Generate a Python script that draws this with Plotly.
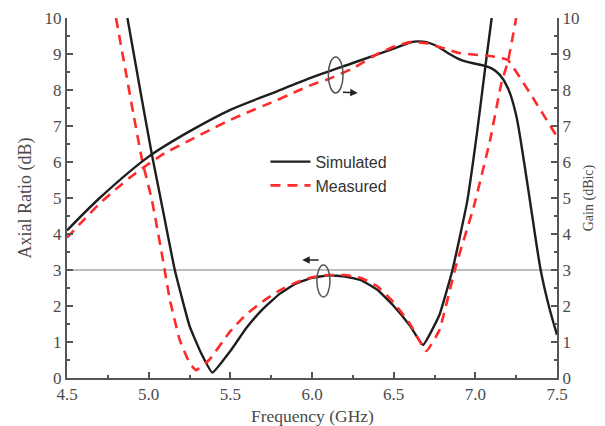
import plotly.graph_objects as go

# Axial ratio (dB) - simulated
ar_sim_f = [4.87, 4.95, 5.02, 5.09, 5.16, 5.25, 5.32, 5.39, 5.5, 5.6, 5.7, 5.8, 5.9, 6.0, 6.1, 6.2, 6.3, 6.4, 6.5, 6.6, 6.68, 6.78, 6.86, 6.95, 7.01, 7.06, 7.1]
ar_sim = [10.0, 7.95, 6.2, 4.6, 3.0, 1.45, 0.7, 0.15, 0.75, 1.4, 1.92, 2.33, 2.62, 2.78, 2.85, 2.82, 2.72, 2.45, 2.0, 1.45, 0.92, 1.75, 3.0, 4.9, 6.8, 8.6, 10.0]

# Axial ratio (dB) - measured
ar_meas_f = [4.80, 4.86, 4.91, 4.96, 5.02, 5.08, 5.13, 5.19, 5.25, 5.29, 5.37, 5.5, 5.6, 5.7, 5.8, 5.9, 6.0, 6.1, 6.2, 6.3, 6.4, 6.5, 6.6, 6.7, 6.78, 6.88, 6.99, 7.09, 7.16, 7.2, 7.25]
ar_meas = [10.0, 8.5, 7.25, 6.05, 4.94, 3.47, 2.17, 1.06, 0.42, 0.22, 0.5, 1.3, 1.78, 2.13, 2.43, 2.65, 2.8, 2.86, 2.86, 2.78, 2.55, 2.1, 1.5, 0.75, 1.33, 3.1, 4.75, 6.6, 8.2, 8.8, 10.0]

# Gain (dBic) - simulated
gain_sim_f = [4.5, 4.7, 5.0, 5.25, 5.5, 5.75, 6.0, 6.25, 6.5, 6.6, 6.65, 6.7, 6.75, 6.8, 6.85, 6.9, 6.95, 7.0, 7.05, 7.1, 7.15, 7.2, 7.25, 7.3, 7.35, 7.4, 7.45, 7.5]
gain_sim = [4.1, 5.0, 6.15, 6.85, 7.45, 7.9, 8.35, 8.75, 9.15, 9.32, 9.35, 9.33, 9.25, 9.12, 8.98, 8.86, 8.78, 8.73, 8.68, 8.6, 8.42, 8.05, 7.3, 5.95, 4.45, 3.0, 2.0, 1.2]

# Gain (dBic) - measured
gain_meas_f = [4.5, 4.6, 4.7, 4.8, 4.9, 5.0, 5.1, 5.25, 5.4, 5.5, 5.6, 5.75, 5.9, 6.0, 6.1, 6.25, 6.4, 6.5, 6.6, 6.7, 6.8, 6.9, 7.0, 7.1, 7.2, 7.35, 7.5]
gain_meas = [3.9, 4.38, 4.85, 5.25, 5.62, 5.95, 6.25, 6.6, 6.95, 7.17, 7.37, 7.65, 7.95, 8.15, 8.3, 8.6, 9.0, 9.2, 9.33, 9.3, 9.17, 9.03, 8.98, 8.94, 8.83, 7.8, 6.7]

x_ticks = [4.5, 5.0, 5.5, 6.0, 6.5, 7.0, 7.5]
y_ticks = list(range(0, 11))

BLACK = "#1e1e1e"
RED = "#ff2a2a"
AXIS = "#555555"
TXT = "#4a4a4a"
SERIF = "Liberation Serif, Times New Roman, serif"

fig = go.Figure()

# AR curves (left axis)
fig.add_trace(go.Scatter(x=ar_sim_f, y=ar_sim, mode="lines", name="Simulated",
                         line=dict(color=BLACK, width=2.4, shape="spline", smoothing=0.35), legendgroup="s"))
fig.add_trace(go.Scatter(x=ar_meas_f, y=ar_meas, mode="lines", name="Measured",
                         line=dict(color=RED, width=2.6, dash="10px,7px", shape="spline", smoothing=0.35),
                         legendgroup="m"))
# Gain curves (right axis)
fig.add_trace(go.Scatter(x=gain_sim_f, y=gain_sim, mode="lines", name="Simulated", yaxis="y2",
                         line=dict(color=BLACK, width=2.4, shape="spline", smoothing=0.8),
                         showlegend=False, legendgroup="s"))
fig.add_trace(go.Scatter(x=gain_meas_f, y=gain_meas, mode="lines", name="Measured", yaxis="y2",
                         line=dict(color=RED, width=2.6, dash="10px,7px", shape="spline", smoothing=0.25),
                         showlegend=False, legendgroup="m"))

# 3 dB reference line
fig.add_shape(type="line", xref="x", yref="y", x0=4.5, x1=7.5, y0=3, y1=3,
              line=dict(color="#bdbdbd", width=2), layer="below")

# ellipse markers + arrows
fig.add_shape(type="circle", xref="x", yref="y", x0=6.10, x1=6.19, y0=7.92, y1=8.92,
              line=dict(color="#555555", width=1.5))
fig.add_shape(type="circle", xref="x", yref="y", x0=6.03, x1=6.11, y0=2.25, y1=3.14,
              line=dict(color="#555555", width=1.5))
fig.add_annotation(x=6.28, y=7.92, ax=6.18, ay=7.94, xref="x", yref="y", axref="x", ayref="y",
                   text="", showarrow=True, arrowhead=2, arrowsize=1, arrowwidth=1.5, arrowcolor="#222")
fig.add_annotation(x=5.94, y=3.28, ax=6.05, ay=3.28, xref="x", yref="y", axref="x", ayref="y",
                   text="", showarrow=True, arrowhead=2, arrowsize=1, arrowwidth=1.5, arrowcolor="#222")

# x-axis title (placed below tick labels)
fig.add_annotation(x=0.5, y=-0.106, xref="paper", yref="paper", xanchor="center", yanchor="middle",
                   text="Frequency (GHz)", showarrow=False,
                   font=dict(family=SERIF, size=17.5, color=TXT))

fig.update_layout(
    width=589, height=418,
    margin=dict(l=59, r=40, t=10, b=48, autoexpand=False),
    paper_bgcolor="white", plot_bgcolor="white",
    showlegend=True,
    legend=dict(x=0.405, y=0.648, xanchor="left", yanchor="top", bgcolor="rgba(0,0,0,0)",
                font=dict(family="Liberation Sans, Arial, sans-serif", size=16, color="#333"),
                tracegroupgap=0, itemwidth=40),
    xaxis=dict(range=[4.5, 7.5], tickvals=x_ticks, ticktext=[f"{v:.1f}" for v in x_ticks],
               automargin=False,
               ticks="inside", ticklen=6, tickwidth=1.5, tickcolor=AXIS,
               minor=dict(dtick=0.25, ticks="inside", ticklen=3, tickcolor=AXIS),
               showline=True, linecolor=AXIS, linewidth=2, showgrid=False, zeroline=False,
               tickfont=dict(family=SERIF, size=17, color=TXT)),
    yaxis=dict(range=[0, 10], tickvals=y_ticks, automargin=False,
               ticks="inside", ticklen=6, tickwidth=1.5, tickcolor=AXIS,
               minor=dict(dtick=0.5, ticks="inside", ticklen=3, tickcolor=AXIS),
               showline=True, linecolor=AXIS, linewidth=2, showgrid=False, zeroline=False,
               tickfont=dict(family=SERIF, size=17, color=TXT),
               title=dict(text="Axial Ratio (dB)", font=dict(family=SERIF, size=18, color=TXT), standoff=8)),
    yaxis2=dict(range=[0, 10], tickvals=y_ticks, overlaying="y", side="right", automargin=False,
                ticks="inside", ticklen=6, tickwidth=1.5, tickcolor=AXIS,
                minor=dict(dtick=0.5, ticks="inside", ticklen=3, tickcolor=AXIS),
                showline=True, linecolor=AXIS, linewidth=2, showgrid=False, zeroline=False,
                tickfont=dict(family=SERIF, size=17, color=TXT),
                title=dict(text="Gain (dBic)", font=dict(family=SERIF, size=14, color=TXT), standoff=6)),
)

fig.write_html("out.html")
